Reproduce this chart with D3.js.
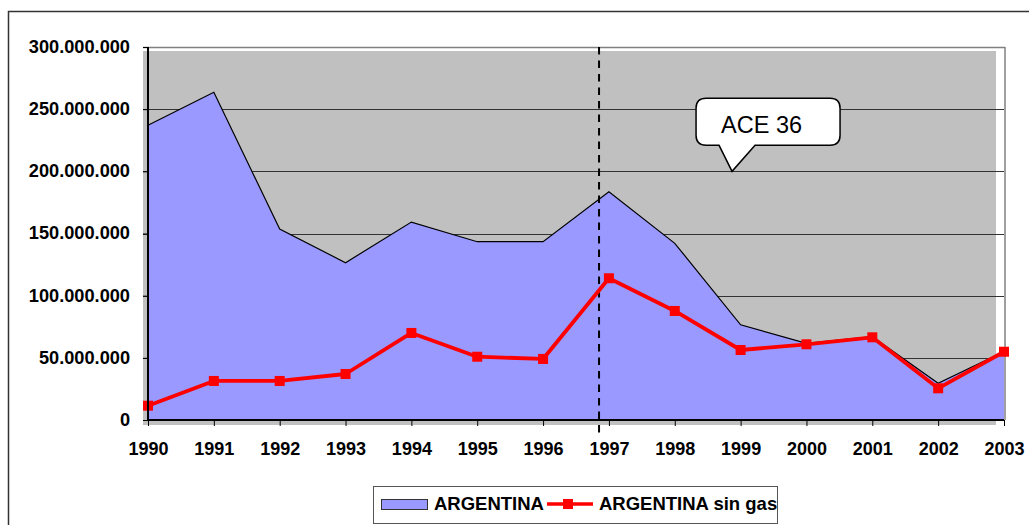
<!DOCTYPE html>
<html><head><meta charset="utf-8">
<script src="https://cdn.jsdelivr.net/npm/d3@7"></script>
<style>body{margin:0;background:#fff;}svg{display:block;font-family:Arial,"Liberation Sans",sans-serif;}</style>
</head><body><svg id="c" width="1029" height="525"></svg>
<script>
const years = [1990,1991,1992,1993,1994,1995,1996,1997,1998,1999,2000,2001,2002,2003];
const argentina = [237.0,263.6,153.6,126.5,159.2,143.4,143.4,183.6,142.1,76.6,61.7,67.0,29.5,55.1].map(v=>v*1e6);
const argentinaSinGas = [11.5,31.4,31.4,37.0,70.0,50.9,49.1,114.0,87.7,56.3,60.9,66.5,25.5,54.9].map(v=>v*1e6);
const yTicks = [0,50e6,100e6,150e6,200e6,250e6,300e6];
const seriesNames = ["ARGENTINA","ARGENTINA sin gas"];
const markerYear = 1996.85;
const calloutText = "ACE 36";
const calloutPoint = [1998.87, 200e6];

const svg = d3.select("#c");
const L=148,R=1004,T=47,B=420;
const x = d3.scaleLinear().domain([1990,2003]).range([L,R]);
const y = d3.scaleLinear().domain([0,300e6]).range([B,T]);
const loc = d3.formatLocale({decimal:",",thousands:".",grouping:[3],currency:["",""]});
const fmt = loc.format(",");

// outer border
svg.append("rect").attr("x",8.5).attr("y",11.5).attr("width",1040).attr("height",540)
  .attr("fill","none").attr("stroke","#333").attr("stroke-width",1.5);

// plot background (slightly offset like the reference)
svg.append("rect").attr("x",L-5).attr("y",T+4).attr("width",R-L-4+1).attr("height",B-T+1)
  .attr("fill","#C0C0C0");

// gridlines
svg.append("g").selectAll("line").data(yTicks.filter(d=>d>0 && d<300e6)).join("line")
  .attr("x1",L-5).attr("x2",R).attr("y1",d=>Math.round(y(d))+0.5).attr("y2",d=>Math.round(y(d))+0.5)
  .attr("stroke","#333").attr("stroke-width",1);
// top and right frame
svg.append("line").attr("x1",L-5).attr("x2",R+1).attr("y1",T+0.5).attr("y2",T+0.5).attr("stroke","#808080").attr("stroke-width",1.5);
svg.append("line").attr("x1",R+1).attr("x2",R+1).attr("y1",T).attr("y2",B).attr("stroke","#808080").attr("stroke-width",1.5);

// area
const idx = d3.range(years.length);
svg.append("path").datum(idx)
  .attr("d", d3.area().x(i=>x(years[i])).y0(y(0)).y1(i=>y(argentina[i])))
  .attr("fill","#9999FF");
svg.append("path").datum(idx)
  .attr("d", d3.line().x(i=>x(years[i])).y(i=>y(argentina[i])))
  .attr("fill","none").attr("stroke","#000").attr("stroke-width",1.2);

// dashed marker line
svg.append("line").attr("x1",x(markerYear)).attr("x2",x(markerYear)).attr("y1",T).attr("y2",B+16)
  .attr("stroke","#000").attr("stroke-width",2).attr("stroke-dasharray","7.5,6");

// red line
svg.append("path").datum(idx)
  .attr("d", d3.line().x(i=>x(years[i])).y(i=>y(argentinaSinGas[i])))
  .attr("fill","none").attr("stroke","#FF0000").attr("stroke-width",3.8).attr("stroke-linejoin","round");
svg.append("g").selectAll("rect").data(idx).join("rect")
  .attr("x",i=>x(years[i])-5).attr("y",i=>y(argentinaSinGas[i])-5).attr("width",10).attr("height",10)
  .attr("fill","#FF0000");

// axes
const xAxis = svg.append("g").attr("transform",`translate(0,${B})`)
  .call(d3.axisBottom(x).tickValues(years).tickFormat(d3.format("d")).tickSize(6).tickPadding(16));
xAxis.select(".domain").attr("stroke","#000").attr("stroke-width",2).attr("d",`M${L},0H${R}`);
xAxis.selectAll(".tick line").attr("stroke","#000");
xAxis.selectAll("text").attr("font-size",18).attr("font-weight","bold").attr("fill","#000").attr("font-family","Arial, Liberation Sans, sans-serif");

const yAxis = svg.append("g").attr("transform",`translate(${L},0)`)
  .call(d3.axisLeft(y).tickValues(yTicks).tickFormat(fmt).tickSize(5).tickPadding(13));
yAxis.select(".domain").attr("stroke","#000").attr("stroke-width",2).attr("d",`M0,${T}V${B}`);
yAxis.selectAll(".tick line").attr("stroke","#000");
yAxis.selectAll("text").attr("font-size",18.2).attr("font-weight","bold").attr("fill","#000").attr("dy","0.3em").attr("font-family","Arial, Liberation Sans, sans-serif");

// callout
const tip = [x(calloutPoint[0]), y(calloutPoint[1])];
const bx = tip[0]-36, by = tip[1]-73, bw = 144, bh = 47, r = 10;
const p = d3.path();
p.moveTo(bx+r,by); p.lineTo(bx+bw-r,by); p.quadraticCurveTo(bx+bw,by,bx+bw,by+r);
p.lineTo(bx+bw,by+bh-r); p.quadraticCurveTo(bx+bw,by+bh,bx+bw-r,by+bh);
p.lineTo(tip[0]+23,by+bh); p.lineTo(tip[0],tip[1]); p.lineTo(tip[0]-13,by+bh);
p.lineTo(bx+r,by+bh); p.quadraticCurveTo(bx,by+bh,bx,by+bh-r);
p.lineTo(bx,by+r); p.quadraticCurveTo(bx,by,bx+r,by); p.closePath();
svg.append("path").attr("d",p.toString()).attr("fill","#fff").attr("stroke","#000").attr("stroke-width",1.5);
svg.append("text").attr("x",bx+25).attr("y",by+35).attr("font-size",23.5).attr("fill","#000").text(calloutText);

// legend
const lg = svg.append("g");
lg.append("rect").attr("x",373.5).attr("y",486.5).attr("width",404).attr("height",37).attr("fill","#fff").attr("stroke","#555").attr("stroke-width",1);
lg.append("rect").attr("x",381.5).attr("y",499.5).attr("width",46).attr("height",10).attr("fill","#9999FF").attr("stroke","#333").attr("stroke-width",1);
lg.append("text").attr("x",434).attr("y",510).attr("font-size",18.5).attr("font-weight","bold").text(seriesNames[0]);
lg.append("line").attr("x1",547).attr("x2",593).attr("y1",504).attr("y2",504).attr("stroke","#FF0000").attr("stroke-width",3.5);
lg.append("rect").attr("x",563).attr("y",499).attr("width",10).attr("height",10).attr("fill","#FF0000");
lg.append("text").attr("x",599).attr("y",510).attr("font-size",18.5).attr("font-weight","bold").text(seriesNames[1]);
</script></body></html>
